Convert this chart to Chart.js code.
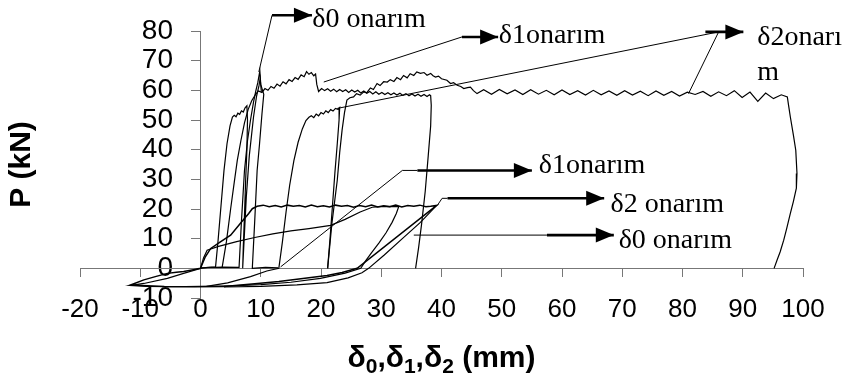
<!DOCTYPE html>
<html>
<head>
<meta charset="utf-8">
<script src="https://cdn.jsdelivr.net/npm/chart.js@4.4.1/dist/chart.umd.min.js"></script>
<style>
  html, body { margin: 0; padding: 0; background: #fff; }
  #wrap { width: 849px; height: 379px; }
</style>
</head>
<body>
<div id="wrap"><canvas id="chart" width="849" height="379"></canvas></div>
<script>
// Onarımlı numuneler (üst grup) - deplasman (mm) / yük (kN)
const uaX = [0, 1.2, 2.5, 2.9, 3.4, 3.9, 4.4, 4.9, 5.3, 5.6, 5.9, 6.2, 6.5, 6.8, 7.1, 7.4, 7.7, 7.8, 7.7, 7.5, 7.3, 7.1, 7.0, 7.6, 8.1, 8.8, 9.3, 9.7, 9.9, 10.1];
const uaY = [0, 0.3, 0.5, 9, 21, 33, 42, 48, 51, 51.6, 51.1, 52.3, 51.9, 53.1, 52.7, 54.1, 54.8, 50, 40, 30, 18, 7, 0, 24, 38, 51, 58, 61.5, 64, 59.5];

const ubX = [0, 3.6, 6.4, 6.8, 7.3, 7.8, 8.3, 8.8, 9.2, 9.5, 9.85, 10.0, 10.3, 10.5, 10.2, 9.8, 9.4, 9.0, 8.6, 10.8, 12.9];
const ubY = [0.2, 0.4, 0.3, 16, 33, 43, 50, 56, 60, 62.5, 66.5, 62, 60, 58.7, 52, 42, 33, 16, 0, 0.3, 0.2];

const ucX = [3.6, 4.3, 5.0, 5.6, 6.1, 6.7, 7.3, 7.9, 8.5, 9.1, 9.6, 10.2,
  10.7, 11.2, 11.7, 12.2, 12.7, 13.2, 13.7, 14.2, 14.7, 15.2, 15.7, 16.2, 16.7, 17.2, 17.6, 18.0, 18.4, 18.8, 19.1, 19.3, 19.6,
  20.1, 20.6, 21.1, 21.6, 22.1, 22.6, 23.1, 23.6, 24.1, 24.6, 25.1, 25.6, 26.1, 26.6, 27.1, 27.6, 28.1, 28.6, 29.1, 29.6,
  30.1, 30.6, 31.1, 31.6, 32.1, 32.6, 33.1, 33.6, 34.1, 34.6, 35.1, 35.6, 36.1, 36.6, 37.1, 37.6, 38.0, 38.2,
  38.3, 38.2, 37.8, 37.3, 36.7, 36.2, 35.7];
const ucY = [0.4, 9, 20, 29, 36.3, 43, 49, 53.5, 56.5, 58.5, 59.8, 59.3,
  60.6, 60.0, 61.3, 60.7, 62.1, 61.4, 62.9, 62.2, 63.6, 63.0, 64.3, 63.7, 65.2, 64.6, 66.3, 65.4, 66.0, 64.9, 65.5, 62.0, 59.6,
  60.6, 59.9, 60.5, 59.7, 60.4, 59.5, 60.3, 59.6, 60.2, 59.3, 60.1, 59.4, 60.0, 59.1, 59.8, 59.0, 59.6, 58.8, 59.5, 58.7,
  59.3, 58.6, 59.2, 58.5, 59.1, 58.4, 59.0, 58.3, 58.9, 58.2, 58.8, 58.1, 58.7, 58.0, 58.6, 57.9, 58.5, 58.2,
  55, 48, 38, 26, 15, 7, 0];

const udX = [1.0, 4.5, 8.3, 11.0, 13.0, 13.6, 14.2, 14.8, 15.5, 16.2, 16.9, 17.5, 18.0, 18.4, 18.8, 19.2, 19.6, 20.0, 20.4, 20.8,
  21.2, 21.6, 22.0, 22.4, 22.8, 23.1, 23.0, 22.7, 22.3, 21.9, 21.5, 21.1];
const udY = [-6.1, -4.9, -2.8, -0.9, 0, 9, 19, 28, 36.3, 42.5, 47, 49.8, 50.9, 51.4, 50.8, 52.0, 51.4, 52.5, 52.0, 53.1,
  52.5, 53.5, 53.0, 53.9, 53.6, 54.2, 50, 42, 32, 21, 10, 0];

const ueX = [21.1, 21.8, 22.7, 23.1, 23.5, 23.9, 24.3, 24.8, 25.4, 25.9, 26.5, 27.1, 27.6, 28.2, 28.7, 29.3, 29.8, 30.4, 31.0, 31.5,
  32.1, 32.6, 33.2, 33.7, 34.3, 34.8, 35.4, 35.9, 36.5, 37.1, 37.6, 38.2, 38.6, 39.0, 39.5, 40.0, 40.9, 41.5, 42.0, 42.6,
  43.2, 43.7, 44.3, 44.8, 45.3, 45.9,
  47.0, 48.3, 49.6, 50.9, 52.2, 53.5, 54.8, 56.1, 57.4, 58.7, 60.0, 61.3, 62.6, 63.9, 65.2, 66.5, 67.8, 69.1, 70.4, 71.7,
  73.0, 74.3, 75.6, 76.9, 78.2, 79.5, 80.8, 82.1, 83.4, 84.7, 86.0, 87.3, 88.6, 89.9, 91.2, 92.5, 93.8, 95.1, 96.4, 97.4,
  97.6, 97.9, 98.4, 98.8, 99.0, 98.9, 98.4, 97.9, 97.3, 96.8, 96.2, 95.7, 95.2];
const ueY = [0, 15, 29.7, 39, 46.6, 52.5, 56.7, 57.5, 57.8, 58.9, 58.4, 59.5, 59.2, 60.8, 60.3, 62.3, 61.6, 62.9, 62.8, 63.6,
  63.0, 64.3, 63.6, 65.0, 64.2, 65.6, 65.0, 66.2, 65.7, 66.0, 65.1, 65.7, 64.9, 64.5, 64.8, 63.9, 63.4, 62.3, 62.6, 61.7,
  61.3, 60.6, 60.9, 61.1, 59.9, 58.9,
  60.2, 58.7, 60.3, 58.8, 60.1, 58.6, 60.2, 58.7, 60.0, 58.5, 60.1, 58.6, 59.9, 58.4, 60.0, 58.5, 59.8, 58.3, 59.9, 58.4,
  59.7, 58.2, 59.8, 58.3, 59.6, 58.1, 59.4, 58.6, 59.6, 58.0, 59.5, 58.2, 59.9, 57.6, 59.4, 56.3, 59.1, 57.2, 58.5, 57.8,
  55.0, 51.0, 45.0, 39.8, 32.0, 27.0, 22.5, 18.5, 13.5, 9.5, 5.5, 2.8, 0];

// Onarımsız numuneler (alt grup)
const laX = [0, 0.8, 1.7, 3.3, 5.0, 6.6, 8.0, 8.6, 9.4, 10.4, 11.4, 12.4, 13.4, 14.4, 15.4, 16.4, 17.4, 18.4, 19.4, 20.4,
  21.4, 22.4, 23.4, 24.4, 25.4, 26.4, 27.4, 28.4, 29.4, 30.4, 31.4, 32.4, 33.4, 34.4, 35.4, 36.4, 37.4, 38.2, 39.2, 26.0,
  23.5, 21.0, 17.0, 13.0, 9.0, 3.9, -1.0, -6.0, -11.6, -9.4, -7.5, -5.5, -4.0, -2.8, -1.2, 0];
const laY = [0, 3.9, 6.7, 8.9, 11.2, 15.1, 18.5, 20.1, 20.9, 21.3, 20.8, 21.2, 20.7, 21.3, 20.9, 21.2, 20.7, 21.3, 20.8, 21.1,
  20.7, 21.3, 20.9, 21.2, 20.6, 21.2, 20.8, 21.3, 20.7, 21.1, 20.8, 21.3, 20.7, 21.2, 20.9, 21.3, 20.8, 20.9, 21.2, 0,
  -1.4, -2.4, -3.4, -4.4, -5.2, -6.1, -6.2, -6.1, -5.6, -3.9, -2.8, -1.7, -1.3, -1.1, -0.5, 0];

const lbX = [0, 0.5, 1.1, 3.0, 6.0, 9.0, 12.0, 15.0, 18.0, 21.6, 24.0, 26.5, 28.5, 30.5, 32.9, 32.5, 31.8, 30.8, 29.6, 28.4,
  27.4, 26.6, 24.0, 19.9, 15.0, 10.0, 5.0, 0, -5.0, -9.0, -11.6, -9.4, -5.5, -2.8, 0];
const lbY = [0, 3.5, 6.1, 7.4, 9.0, 10.4, 11.6, 12.6, 13.4, 14.5, 16.5, 19.0, 20.6, 20.9, 20.8, 18.5, 15.5, 12.0, 8.5, 5.3,
  2.5, 0, -1.6, -3.4, -4.7, -5.5, -5.9, -6.1, -6.2, -6.1, -5.8, -5.1, -3.4, -1.7, 0];

const lcX = [3.9, 10.0, 16.0, 21.0, 24.5, 26.8, 27.9, 30.5, 33.5, 36.5, 39.2];
const lcY = [-6.3, -6.1, -5.6, -4.8, -3.2, -1.5, 0, 4.5, 10.0, 15.5, 21.2];

// Etiket okları: ince gösterge çizgileri ve kalın ok gövdeleri
const pointerLines = [
  { x: [9.68, 11.87], y: [66.2, 85.3] },
  { x: [20.46, 43.4], y: [62.8, 78.0] },
  { x: [22.7, 86.0], y: [53.9, 79.7] },
  { x: [81.0, 86.0], y: [58.9, 79.7] },
  { x: [13.3, 33.5, 36.0], y: [0.5, 33.0, 33.0] },
  { x: [39.3, 40.1, 41.0], y: [21.2, 23.6, 23.6] },
  { x: [35.4, 57.5], y: [11.2, 11.2] }
];
const arrowShafts = [
  { x: [11.87, 18.5], y: [85.3, 85.3] },
  { x: [43.4, 49.4], y: [78.0, 78.0] },
  { x: [83.8, 90.1], y: [79.7, 79.7] },
  { x: [36.0, 55.0], y: [33.0, 33.0] },
  { x: [41.0, 67.0], y: [23.6, 23.6] },
  { x: [57.5, 68.6], y: [11.2, 11.2] }
];

const labelText = ['δ0 onarım', 'δ1onarım', 'δ2onarı', 'm', 'δ1onarım', 'δ2 onarım', 'δ0 onarım'];
const labelX = [18.55, 49.5, 92.4, 92.4, 56.15, 68.05, 69.4];
const labelY = [81.4, 75.8, 75.2, 63.4, 32.0, 19.1, 6.7];

// x ekseni başlığı: [metin, alt simge mi]
const xTitleParts = [['δ', false], ['0', true], [',δ', false], ['1', true], [',δ', false], ['2', true], [' (mm)', false]];

const xTicks = { min: -20, max: 100, step: 10 };
const yTicks = { min: -10, max: 80, step: 10 };

const yTickFont = '28px Arial, "Liberation Sans", sans-serif';
const titleFont = 'bold 30px Arial, "Liberation Sans", sans-serif';
const subFont = 'bold 21px Arial, "Liberation Sans", sans-serif';

const toPoints = (xs, ys) => xs.map((x, i) => ({ x, y: ys[i] }));

const curve = (xs, ys) => ({
  data: toPoints(xs, ys),
  showLine: true,
  borderColor: '#000',
  borderWidth: 1.2,
  pointRadius: 0,
  tension: 0
});

const datasets = [
  curve(uaX, uaY), curve(ubX, ubY), curve(ucX, ucY), curve(udX, udY), curve(ueX, ueY),
  { ...curve(laX, laY), borderWidth: 1.5 }, curve(lbX, lbY), curve(lcX, lcY)
];
pointerLines.forEach(p => datasets.push({ ...curve(p.x, p.y), borderWidth: 1, clip: false }));
arrowShafts.forEach(p => datasets.push({ ...curve(p.x, p.y), borderWidth: 2.6, clip: false, arrowHead: true }));

// y etiketleri eksen çizgisinin solunda, sağa yaslı dursun
const canvas = document.getElementById('chart');
const mctx = canvas.getContext('2d');
mctx.font = yTickFont;
const widestY = mctx.measureText(String(yTicks.min)).width;

// ok uçları, etiket yazıları ve x başlığı
const annotationPlugin = {
  id: 'annotations',
  afterDatasetsDraw(chart) {
    const { ctx, scales } = chart;
    ctx.save();
    ctx.fillStyle = '#000';
    chart.data.datasets.forEach((ds, i) => {
      if (!ds.arrowHead) return;
      const pts = chart.getDatasetMeta(i).data;
      const tip = pts[pts.length - 1];
      const prev = pts[pts.length - 2];
      const a = Math.atan2(tip.y - prev.y, tip.x - prev.x);
      ctx.save();
      ctx.translate(tip.x, tip.y);
      ctx.rotate(a);
      ctx.beginPath();
      ctx.moveTo(0, 0);
      ctx.lineTo(-18, -7.5);
      ctx.lineTo(-18, 7.5);
      ctx.closePath();
      ctx.fill();
      ctx.restore();
    });
    ctx.font = '28px "Liberation Serif", "Times New Roman", serif';
    ctx.textAlign = 'left';
    ctx.textBaseline = 'alphabetic';
    labelText.forEach((t, k) => {
      ctx.fillText(t, scales.x.getPixelForValue(labelX[k]), scales.y.getPixelForValue(labelY[k]));
    });
    ctx.restore();
  },
  afterDraw(chart) {
    const { ctx, chartArea } = chart;
    ctx.save();
    ctx.fillStyle = '#000';
    ctx.textAlign = 'left';
    ctx.textBaseline = 'alphabetic';
    let total = 0;
    xTitleParts.forEach(([t, sub]) => {
      ctx.font = sub ? subFont : titleFont;
      total += ctx.measureText(t).width;
    });
    let x = (chartArea.left + chartArea.right) / 2 - total / 2;
    const base = chart.height - 12;
    xTitleParts.forEach(([t, sub]) => {
      ctx.font = sub ? subFont : titleFont;
      ctx.fillText(t, x, sub ? base + 6 : base);
      x += ctx.measureText(t).width;
    });
    ctx.restore();
  }
};

Chart.defaults.font.family = 'Arial, "Liberation Sans", sans-serif';
Chart.defaults.color = '#000';

new Chart(canvas, {
  type: 'scatter',
  data: { datasets },
  plugins: [annotationPlugin],
  options: {
    responsive: false,
    animation: false,
    layout: { padding: { top: 31, right: 46, left: 0, bottom: 0 } },
    plugins: {
      legend: { display: false },
      tooltip: { enabled: false }
    },
    scales: {
      x: {
        type: 'linear', position: 'bottom', min: xTicks.min, max: xTicks.max,
        ticks: { stepSize: xTicks.step, padding: -4, color: '#000', font: { size: 26 }, maxRotation: 0, autoSkip: false },
        grid: { display: false, drawTicks: false },
        border: { display: false },
        title: { display: false },
        afterFit: s => { s.height = 81; }
      },
      y: {
        type: 'linear', position: 'left', min: yTicks.min, max: yTicks.max,
        ticks: { stepSize: yTicks.step, mirror: true, crossAlign: 'far', padding: 93 - widestY, autoSkip: false, color: '#000', font: { size: 28 } },
        grid: { display: false, drawTicks: false },
        border: { display: false },
        title: { display: true, text: 'P (kN)', color: '#000', font: { size: 30, weight: 'bold' }, padding: { top: 4, bottom: 0 } },
        afterFit: s => { s.width = 80; s.paddingTop = 0; s.paddingBottom = 0; }
      },
      x0: {
        type: 'linear', axis: 'x', position: { y: 0 }, min: xTicks.min, max: xTicks.max,
        ticks: { stepSize: xTicks.step, display: false },
        grid: { display: true, drawOnChartArea: false, drawTicks: true, tickLength: 8, color: '#777' },
        border: { display: true, color: '#777', width: 1 }
      },
      y0: {
        type: 'linear', axis: 'y', position: { x: 0 }, min: yTicks.min, max: yTicks.max,
        ticks: { stepSize: yTicks.step, display: false },
        grid: { display: true, drawOnChartArea: false, drawTicks: true, tickLength: 9, color: '#777' },
        border: { display: true, color: '#777', width: 1 }
      }
    }
  }
});
</script>
</body>
</html>
